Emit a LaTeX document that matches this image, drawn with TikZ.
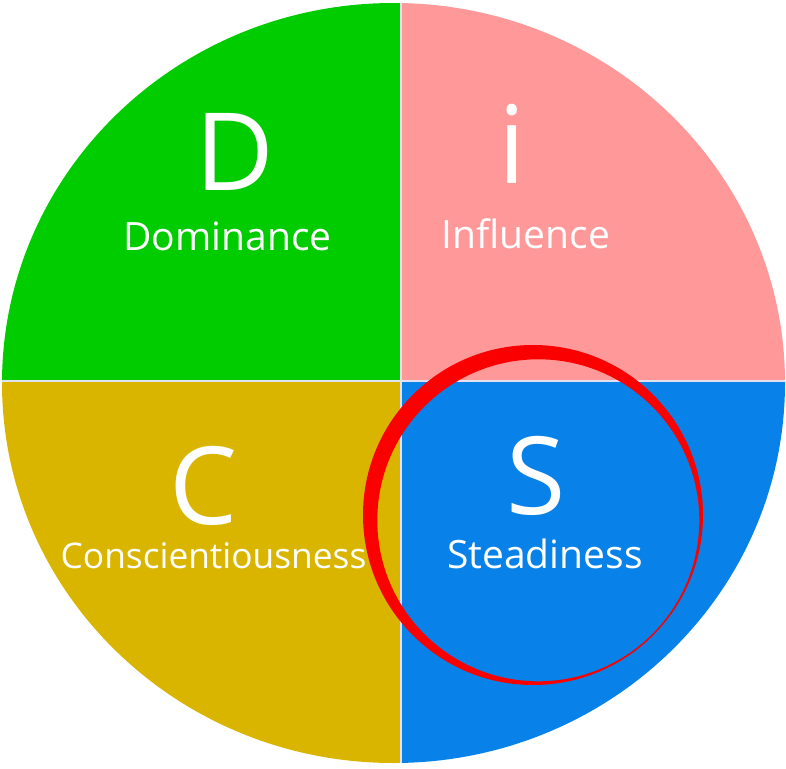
\documentclass[tikz,border=0pt]{standalone}
\usepackage{fontspec}
\setmainfont{Open Sans}
\definecolor{discgreen}{RGB}{0,204,0}
\definecolor{discpink}{RGB}{255,153,153}
\definecolor{discmustard}{RGB}{217,181,0}
\definecolor{discblue}{RGB}{8,130,232}
\definecolor{dividerline}{RGB}{225,225,240}
\definecolor{ringred}{RGB}{250,0,0}
\begin{document}
\begin{tikzpicture}[x=1pt,y=-1pt,
  bigletter/.style={text=white,font=\fontsize{108}{108}\selectfont,anchor=base,inner sep=0pt},
  traitword/.style={text=white,font=\fontsize{39}{39}\selectfont,anchor=base,inner sep=0pt},
  longword/.style={traitword,font=\fontsize{35.3}{36}\selectfont},
  divider/.style={draw=dividerline,line width=2pt}]
\useasboundingbox (0,0) rectangle (786,768);
% four quadrants of the DiSC disc
\begin{scope}
  \clip (393.5,383) ellipse [x radius=391.5, y radius=380];
  \fill[discgreen]   (0,0)     rectangle (401,381);
  \fill[discpink]    (401,0)   rectangle (786,381);
  \fill[discmustard] (0,381)   rectangle (401,768);
  \fill[discblue]    (401,381) rectangle (786,768);
  \draw[divider] (401,0) -- (401,768);
  \draw[divider] (0,381) -- (786,381);
\end{scope}
% letters and trait names
\node[bigletter] (lD) at (235,190) {D};
\node[traitword] (wD) at (227.5,250) {Dominance};
\node[bigletter] (li) at (512,183) {i};
\node[traitword] (wi) at (526,248) {Influence};
\node[bigletter] (lC) at (204,524) {C};
\node[longword]  (wC) at (213.5,568) {Conscientiousness};
\node[bigletter] (lS) at (536,514) {S};
\node[traitword] (wS) at (545,568) {Steadiness};
% hand-drawn style highlight ring around S
\fill[ringred, even odd rule] (533,515) circle (170) (538.3,520.3) circle (161);
\end{tikzpicture}
\end{document}
